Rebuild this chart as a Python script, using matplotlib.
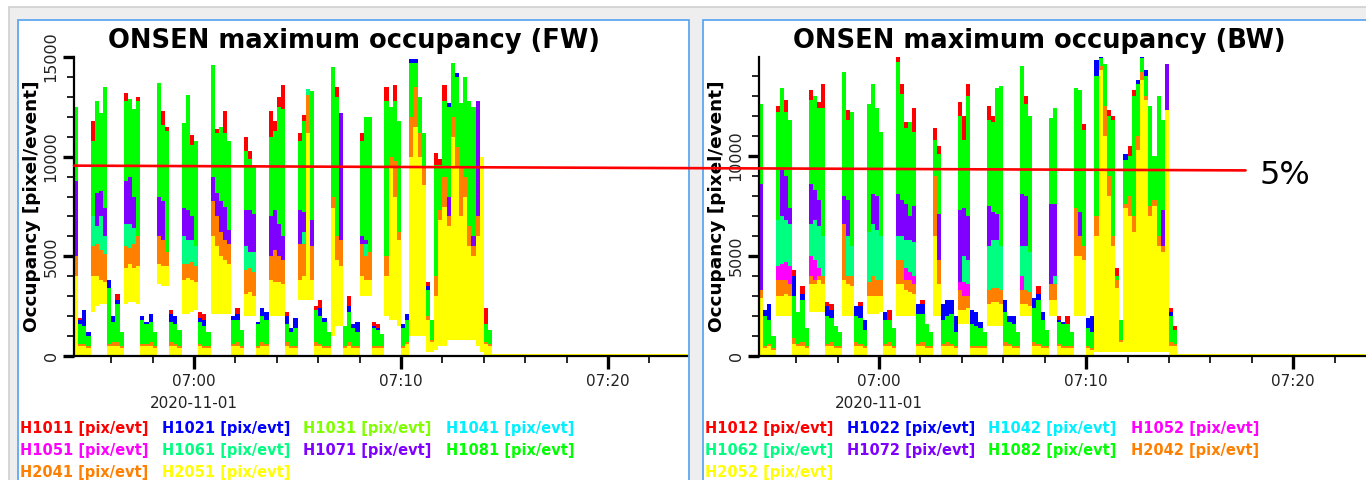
import numpy as np
import pandas as pd
import matplotlib
matplotlib.use("Agg")
import matplotlib.pyplot as plt
import matplotlib.dates as mdates
from matplotlib.patches import Rectangle, ConnectionPatch
from matplotlib.ticker import MultipleLocator

plt.rcParams["font.family"] = "DejaVu Sans"

# readout bins: 12 s each from 06:54:12, then the idle tail after the run stops
bin_start = "2020-11-01 06:54:12"
bin_seconds = 12
n_bins = 101
run_end = "2020-11-01 07:24:00"

# all occupancies below are in units of 100 pixel/event, one value per bin
# (last entry = idle tail); "floor" is the lower edge of the min/max band
fw_floor = [
    0, 0, 0, 0, 22, 25, 26, 26, 0, 0,
    0, 0, 26, 27, 27, 26, 0, 0, 0, 0,
    36, 35, 35, 0, 0, 0, 21, 21, 22, 23,
    0, 0, 0, 21, 21, 21, 21, 21, 0, 0,
    0, 20, 20, 20, 0, 0, 0, 20, 20, 20,
    20, 0, 0, 0, 28, 28, 28, 28, 0, 0,
    0, 0, 10, 15, 15, 0, 0, 0, 0, 30,
    30, 30, 0, 0, 0, 20, 18, 18, 15, 0,
    0, 10, 10, 10, 10, 2, 2, 3, 5, 5,
    8, 8, 8, 8, 8, 8, 8, 5, 2, 0,
    0, 0]
fw_h1011 = [
    0, 19, 0, 0, 118, 0, 0, 0, 0, 0,
    31, 0, 132, 0, 0, 130, 0, 0, 0, 0,
    0, 123, 115, 23, 0, 0, 0, 0, 111, 0,
    22, 21, 0, 0, 114, 0, 123, 0, 0, 24,
    0, 110, 103, 0, 0, 0, 0, 123, 118, 130,
    136, 22, 0, 0, 112, 121, 0, 0, 25, 28,
    0, 0, 0, 135, 0, 0, 30, 0, 0, 112,
    0, 0, 17, 16, 0, 135, 0, 136, 0, 0,
    0, 0, 0, 0, 0, 37, 0, 102, 99, 136,
    0, 0, 0, 0, 0, 0, 0, 0, 0, 24,
    0, 0]
fw_h1021 = [
    0, 18, 23, 12, 0, 0, 0, 0, 38, 20,
    28, 0, 0, 0, 0, 0, 20, 17, 21, 0,
    0, 0, 0, 21, 20, 0, 0, 0, 0, 0,
    19, 18, 0, 0, 0, 0, 0, 0, 20, 21,
    0, 0, 0, 0, 17, 24, 22, 0, 0, 0,
    0, 20, 14, 19, 0, 0, 0, 0, 0, 24,
    19, 0, 0, 0, 0, 0, 25, 16, 17, 0,
    0, 0, 15, 14, 0, 0, 0, 0, 0, 16,
    21, 149, 149, 0, 0, 35, 0, 0, 0, 0,
    127, 0, 142, 0, 0, 0, 0, 0, 0, 0,
    0, 0]
fw_h1081 = [
    125, 16, 15, 10, 108, 128, 122, 135, 34, 17,
    26, 12, 128, 129, 124, 128, 18, 16, 17, 12,
    137, 116, 113, 17, 16, 13, 117, 131, 106, 108,
    17, 15, 12, 146, 112, 115, 112, 108, 18, 18,
    13, 103, 99, 96, 16, 20, 18, 110, 113, 125,
    124, 16, 12, 14, 108, 118, 125, 133, 23, 20,
    17, 12, 145, 130, 118, 15, 22, 14, 12, 108,
    120, 120, 14, 13, 11, 128, 125, 128, 118, 14,
    18, 147, 147, 130, 112, 33, 18, 96, 96, 128,
    125, 147, 140, 127, 140, 128, 125, 116, 20, 16,
    13, 0]
fw_h1071 = [
    88, 0, 0, 0, 0, 82, 83, 74, 0, 0,
    0, 0, 88, 90, 80, 0, 0, 0, 0, 0,
    80, 78, 0, 0, 0, 0, 74, 73, 70, 0,
    0, 0, 0, 90, 82, 78, 75, 63, 0, 0,
    0, 73, 73, 71, 0, 0, 0, 70, 73, 66,
    60, 0, 0, 0, 73, 72, 0, 68, 0, 0,
    0, 0, 0, 0, 122, 0, 0, 0, 0, 60,
    58, 0, 0, 0, 0, 0, 0, 0, 0, 0,
    0, 0, 0, 0, 0, 0, 0, 0, 0, 0,
    80, 0, 0, 0, 0, 0, 60, 128, 0, 0,
    0, 0]
fw_h1061 = [
    0, 0, 0, 0, 70, 65, 70, 60, 0, 0,
    0, 0, 66, 66, 64, 0, 0, 0, 0, 0,
    0, 0, 0, 0, 0, 0, 60, 58, 58, 55,
    0, 0, 0, 0, 0, 0, 52, 54, 0, 0,
    0, 55, 52, 52, 0, 0, 0, 0, 0, 0,
    0, 0, 0, 0, 0, 62, 134, 0, 0, 0,
    0, 0, 0, 0, 0, 0, 0, 0, 0, 0,
    56, 0, 0, 0, 0, 0, 0, 0, 0, 0,
    0, 0, 0, 0, 0, 0, 0, 0, 0, 0,
    0, 0, 0, 0, 0, 0, 0, 0, 0, 0,
    0, 0]
fw_h2041 = [
    50, 6, 6, 5, 55, 56, 53, 51, 6, 7,
    7, 5, 55, 54, 56, 60, 6, 6, 7, 5,
    60, 58, 52, 7, 6, 5, 46, 46, 47, 45,
    6, 5, 5, 78, 70, 62, 58, 56, 6, 7,
    5, 43, 44, 42, 5, 7, 6, 50, 53, 50,
    48, 7, 5, 5, 56, 56, 131, 55, 7, 6,
    5, 5, 80, 60, 58, 5, 7, 5, 5, 56,
    50, 52, 5, 5, 5, 50, 100, 98, 62, 5,
    7, 120, 135, 112, 95, 20, 8, 40, 73, 90,
    70, 120, 105, 95, 90, 65, 55, 70, 12, 7,
    6, 0]
fw_h2051 = [
    40, 5, 5, 4, 40, 40, 38, 37, 5, 5,
    5, 4, 44, 46, 44, 45, 5, 5, 5, 4,
    46, 45, 45, 5, 5, 4, 38, 39, 38, 37,
    5, 4, 4, 60, 55, 50, 48, 46, 5, 5,
    4, 31, 32, 30, 4, 5, 5, 38, 37, 37,
    36, 5, 4, 4, 38, 40, 112, 38, 5, 5,
    4, 4, 74, 48, 45, 4, 5, 4, 4, 40,
    38, 38, 4, 4, 4, 40, 95, 80, 58, 4,
    6, 100, 115, 100, 86, 18, 7, 30, 68, 75,
    65, 110, 95, 70, 80, 55, 50, 60, 100, 6,
    5, 1]

bw_floor = [
    0, 0, 0, 0, 20, 20, 20, 20, 0, 0,
    0, 0, 22, 22, 22, 22, 0, 0, 0, 0,
    20, 20, 20, 0, 0, 0, 21, 21, 21, 22,
    0, 0, 0, 20, 20, 20, 20, 20, 0, 0,
    0, 0, 20, 20, 0, 0, 0, 0, 16, 16,
    16, 0, 0, 0, 0, 15, 15, 15, 15, 0,
    0, 0, 0, 20, 20, 20, 0, 0, 0, 0,
    20, 20, 0, 0, 0, 0, 20, 20, 20, 0,
    0, 2, 2, 2, 2, 2, 2, 2, 2, 2,
    2, 2, 2, 2, 2, 2, 2, 2, 2, 0,
    0, 0]
bw_h1012 = [
    0, 0, 0, 0, 125, 0, 128, 0, 43, 0,
    35, 0, 133, 0, 127, 136, 27, 26, 0, 0,
    0, 123, 0, 0, 27, 0, 0, 0, 0, 0,
    0, 23, 0, 150, 136, 117, 0, 124, 0, 28,
    0, 0, 114, 105, 0, 0, 0, 0, 127, 120,
    136, 0, 0, 0, 0, 125, 120, 0, 0, 0,
    0, 0, 0, 0, 130, 0, 0, 35, 0, 0,
    0, 0, 20, 0, 20, 0, 0, 0, 116, 0,
    0, 0, 0, 0, 123, 120, 44, 0, 0, 105,
    133, 0, 0, 0, 0, 0, 0, 0, 0, 24,
    15, 0]
bw_h1022 = [
    0, 23, 26, 0, 0, 0, 0, 0, 40, 0,
    31, 0, 0, 0, 0, 0, 25, 23, 0, 0,
    0, 0, 0, 25, 25, 18, 0, 0, 0, 0,
    22, 0, 0, 0, 0, 0, 0, 0, 26, 26,
    0, 0, 0, 0, 26, 28, 28, 20, 0, 0,
    0, 23, 22, 17, 0, 0, 0, 0, 0, 28,
    20, 20, 0, 0, 0, 0, 29, 31, 22, 0,
    0, 0, 18, 17, 0, 0, 0, 0, 0, 19,
    20, 148, 151, 0, 0, 0, 0, 0, 101, 0,
    0, 138, 151, 143, 0, 0, 0, 0, 0, 22,
    0, 0]
bw_h1082 = [
    126, 20, 18, 10, 122, 134, 122, 118, 30, 22,
    28, 14, 128, 130, 124, 124, 20, 19, 15, 12,
    142, 118, 122, 20, 19, 13, 126, 136, 124, 112,
    18, 18, 14, 147, 131, 114, 117, 112, 21, 21,
    16, 12, 108, 101, 18, 20, 21, 12, 120, 108,
    130, 16, 15, 14, 12, 118, 117, 134, 135, 22,
    17, 16, 12, 145, 126, 120, 24, 28, 18, 13,
    119, 124, 17, 16, 16, 12, 134, 133, 113, 14,
    12, 140, 149, 146, 120, 118, 40, 18, 98, 100,
    130, 136, 149, 140, 125, 100, 130, 118, 80, 20,
    13, 0]
bw_h1072 = [
    86, 0, 0, 0, 0, 93, 90, 74, 0, 0,
    0, 0, 86, 83, 78, 0, 0, 0, 0, 0,
    80, 78, 0, 0, 0, 0, 0, 81, 80, 0,
    0, 0, 0, 81, 78, 76, 70, 75, 0, 0,
    0, 0, 71, 71, 0, 0, 0, 0, 73, 74,
    70, 0, 0, 0, 0, 75, 72, 71, 0, 0,
    0, 0, 0, 81, 80, 0, 0, 0, 0, 0,
    76, 76, 0, 0, 0, 0, 0, 72, 0, 0,
    0, 0, 0, 0, 0, 0, 0, 0, 0, 0,
    0, 0, 0, 0, 0, 0, 0, 73, 146, 0,
    0, 0]
bw_h1062 = [
    0, 0, 0, 0, 68, 70, 68, 66, 0, 0,
    0, 0, 66, 68, 65, 60, 0, 0, 0, 0,
    0, 60, 55, 0, 0, 0, 62, 66, 63, 60,
    0, 0, 0, 60, 60, 58, 58, 57, 0, 0,
    0, 0, 0, 0, 0, 0, 0, 0, 0, 50,
    48, 0, 0, 0, 0, 55, 58, 58, 55, 0,
    0, 0, 0, 55, 55, 52, 0, 0, 0, 0,
    0, 40, 0, 0, 0, 0, 0, 0, 0, 0,
    0, 0, 0, 0, 0, 0, 0, 0, 0, 0,
    0, 0, 0, 0, 0, 0, 0, 0, 0, 0,
    0, 0]
bw_h1052 = [
    0, 0, 0, 0, 45, 46, 47, 45, 0, 0,
    0, 0, 50, 48, 44, 0, 0, 0, 0, 0,
    0, 0, 0, 0, 0, 0, 0, 0, 0, 0,
    0, 0, 0, 0, 0, 44, 42, 40, 0, 0,
    0, 0, 0, 0, 0, 0, 0, 0, 37, 37,
    36, 0, 0, 0, 0, 0, 0, 0, 0, 0,
    0, 0, 0, 40, 0, 0, 0, 0, 0, 0,
    0, 0, 0, 0, 0, 0, 0, 0, 0, 0,
    0, 0, 0, 0, 0, 0, 0, 0, 0, 0,
    0, 0, 0, 0, 0, 0, 0, 0, 0, 0,
    0, 0]
bw_h2042 = [
    33, 5, 6, 4, 38, 38, 38, 36, 9, 6,
    7, 5, 40, 38, 40, 40, 6, 7, 5, 5,
    66, 40, 40, 7, 6, 5, 37, 40, 38, 38,
    6, 7, 5, 48, 48, 38, 38, 36, 6, 7,
    5, 5, 90, 48, 6, 7, 6, 5, 33, 30,
    30, 5, 5, 5, 5, 33, 34, 34, 33, 7,
    6, 5, 5, 33, 33, 32, 7, 6, 5, 5,
    36, 36, 6, 5, 5, 5, 74, 60, 55, 5,
    4, 70, 145, 125, 90, 60, 38, 8, 76, 80,
    70, 110, 142, 130, 75, 78, 60, 55, 40, 7,
    6, 0]
bw_h2052 = [
    29, 4, 5, 3, 30, 30, 31, 30, 6, 5,
    5, 4, 36, 36, 38, 36, 5, 5, 4, 4,
    38, 36, 35, 5, 5, 4, 30, 30, 30, 30,
    5, 5, 4, 36, 36, 33, 32, 31, 5, 5,
    4, 4, 60, 36, 5, 5, 5, 4, 23, 23,
    24, 4, 4, 4, 4, 26, 27, 27, 26, 5,
    5, 4, 4, 26, 26, 25, 5, 5, 4, 4,
    28, 28, 5, 4, 4, 4, 50, 50, 48, 4,
    3, 60, 143, 110, 80, 55, 34, 7, 74, 70,
    62, 103, 138, 128, 70, 75, 55, 52, 123, 5,
    5, 1]

fw_channels = ["H1011", "H1021", "H1031", "H1041", "H1051",
               "H1061", "H1071", "H1081", "H2041", "H2051"]
bw_channels = ["H1012", "H1022", "H1042", "H1052", "H1062",
               "H1072", "H1082", "H2042", "H2052"]
channel_colors = {
    "H101": "#ff0000", "H102": "#0000ff", "H103": "#80ff00",
    "H104": "#00f0ff", "H105": "#ff00ff", "H106": "#00ff80",
    "H107": "#8000ff", "H108": "#00ff00", "H204": "#ff8000",
    "H205": "#ffff00",
}

x_tick_times = ["2020-11-01 07:00", "2020-11-01 07:10", "2020-11-01 07:20"]
x_tick_labels = ["07:00\n2020-11-01", "07:10", "07:20"]

# 5% occupancy marker, drawn across both panels
threshold_fw = 9550
threshold_bw = 9280
threshold_end = "2020-11-01 07:17:42"
threshold_label = "5%"


def color_of(name):
    return channel_colors[name[:4]]


def band(vals):
    v = np.asarray(vals, dtype=float) * 100
    return np.append(v, v[-1])


edges = pd.date_range(bin_start, periods=n_bins + 1, freq=f"{bin_seconds}s")
edges = edges.append(pd.DatetimeIndex([run_end]))
x_edges = mdates.date2num(edges.to_pydatetime())

W, H = 1366, 480
fig = plt.figure(figsize=(W / 100, H / 100), dpi=100)
fig.patch.set_facecolor("white")

# page background and the two white panels
fig.add_artist(Rectangle((9 / W, -0.1), 1, 1.1 - 7 / H, transform=fig.transFigure,
                         facecolor="#eeeeee", edgecolor="#cfcfcf", lw=1.2, zorder=-3))
for left, right in [(18, 689), (703, 1400)]:
    fig.add_artist(Rectangle((left / W, -0.1), (right - left) / W, 1.1 - 20 / H,
                             transform=fig.transFigure, facecolor="white",
                             edgecolor="#5ea8f0", lw=1.3, zorder=-2))

ax_fw = fig.add_axes([74 / W, 1 - 356 / H, 613 / W, 299 / H])
ax_bw = fig.add_axes([759 / W, 1 - 356 / H, 607 / W, 299 / H])

fw_series = [
    (fw_h1011, "H1011"), (fw_h1021, "H1021"), (fw_h1081, "H1081"),
    (fw_h1071, "H1071"), (fw_h1061, "H1061"), (fw_h2041, "H2041"),
    (fw_h2051, "H2051"),
]
bw_series = [
    (bw_h1012, "H1012"), (bw_h1022, "H1022"), (bw_h1082, "H1082"),
    (bw_h1072, "H1072"), (bw_h1062, "H1062"), (bw_h1052, "H1052"),
    (bw_h2042, "H2042"), (bw_h2052, "H2052"),
]

x_left = mdates.date2num(pd.Timestamp(bin_start))
tick_pos = mdates.date2num(pd.to_datetime(x_tick_times).to_pydatetime())

for ax, floor, series, y_top, x_right in [
        (ax_fw, fw_floor, fw_series, 15000, "2020-11-01 07:23:49"),
        (ax_bw, bw_floor, bw_series, 14950, "2020-11-01 07:23:31")]:
    lo = band(floor)
    for vals, name in series:
        hi = np.maximum(band(vals), lo)
        ax.fill_between(x_edges, lo, hi, step="post", color=color_of(name),
                        linewidth=0, zorder=2)

    ax.set_xlim(x_left, mdates.date2num(pd.Timestamp(x_right)))
    ax.set_ylim(0, y_top)
    ax.set_facecolor("white")
    for side in ("top", "right"):
        ax.spines[side].set_visible(False)
    for side in ("left", "bottom"):
        ax.spines[side].set_linewidth(1.6)

    ax.yaxis.set_major_locator(MultipleLocator(5000))
    ax.yaxis.set_minor_locator(MultipleLocator(1000))
    ax.tick_params(axis="y", which="major", length=8, width=2.4, pad=3,
                   labelsize=11.5, labelrotation=90, labelcolor="#222222")
    ax.tick_params(axis="y", which="minor", length=5, width=1.2)

    ax.set_xticks(tick_pos, labels=x_tick_labels)
    ax.xaxis.set_minor_locator(mdates.MinuteLocator(byminute=range(0, 60, 2)))
    ax.tick_params(axis="x", which="major", length=9, width=2.4, pad=4,
                   labelsize=11, labelcolor="#222222")
    ax.tick_params(axis="x", which="minor", length=5, width=1.2)
    for lab in ax.get_xticklabels():
        lab.set_linespacing(1.55)
    for lab in ax.get_yticklabels():
        lab.set_verticalalignment("center")

    ax.set_ylabel("Occupancy [pixel/event]", fontsize=13.3, fontweight="bold")
    ax.yaxis.set_label_coords(-0.054, 0.5)

# titles centred on each panel
fig.text(354 / W, 1 - 48 / H, "ONSEN maximum occupancy (FW)", ha="center",
         va="baseline", fontsize=18.5, fontweight="bold")
fig.text(1039 / W, 1 - 48 / H, "ONSEN maximum occupancy (BW)", ha="center",
         va="baseline", fontsize=18.5, fontweight="bold")

# coloured channel legends below each plot, four per row
col_offsets = [2, 144, 285, 428]
row_baselines = [433, 455, 477]
for panel_left, channels in [(18, fw_channels), (703, bw_channels)]:
    for k, name in enumerate(channels):
        x = panel_left + col_offsets[k % 4]
        y = row_baselines[k // 4]
        fig.text(x / W, 1 - y / H, f"{name} [pix/evt]", color=color_of(name),
                 fontsize=10.5, fontweight="bold", ha="left", va="baseline")

# 5% line and its label
end_num = mdates.date2num(pd.Timestamp(threshold_end))
line = ConnectionPatch(xyA=(x_left, threshold_fw), coordsA=ax_fw.transData,
                       xyB=(end_num, threshold_bw), coordsB=ax_bw.transData,
                       color="#ff0000", lw=1.9, zorder=10)
fig.add_artist(line)
ax_bw.annotate(threshold_label, xy=(end_num, threshold_bw), xytext=(10, -4),
               textcoords="offset points", fontsize=23, ha="left", va="center",
               annotation_clip=False)

fig.savefig("out.png", dpi=100)
